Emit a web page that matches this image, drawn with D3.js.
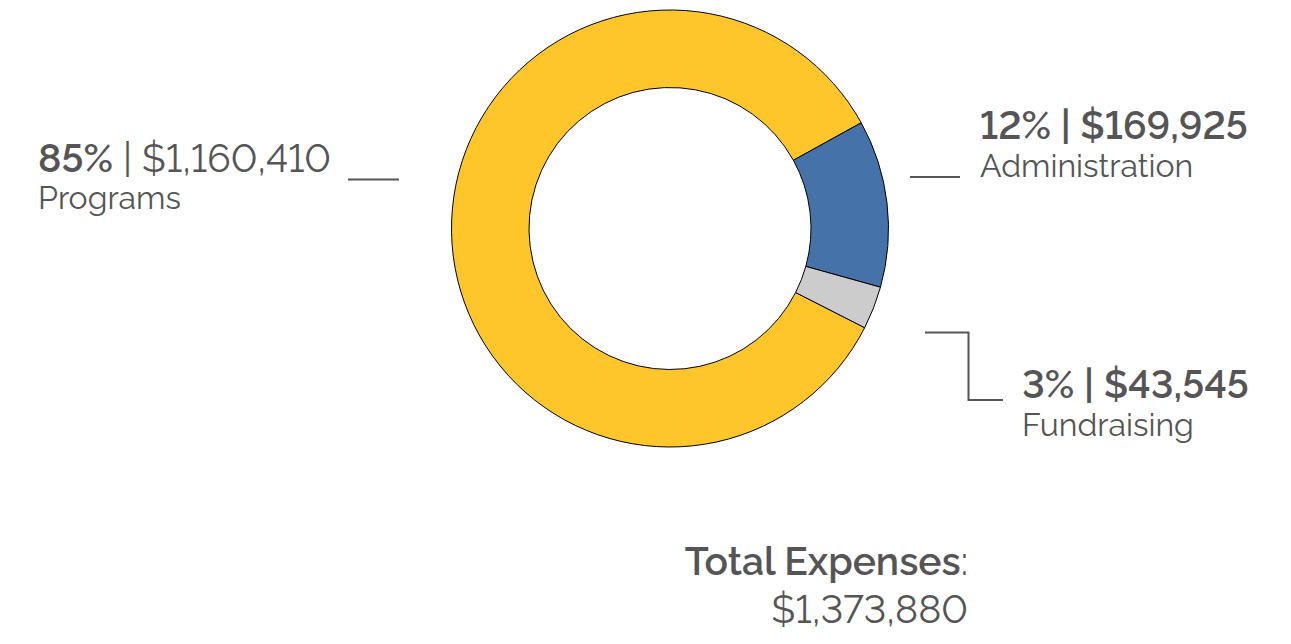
<!DOCTYPE html>
<html>
<head>
    <title>Total Expenses</title>
    <script src="https://d3js.org/d3.v7.min.js"></script>
    <style>
        body {
            margin: 0;
            background: #fff;
        }

        svg text {
            font-family: "Raleway", "Lato", "Open Sans", sans-serif;
            font-variant-numeric: lining-nums;
            font-feature-settings: "lnum" 1;
            fill: #555;
        }

        .slice {
            stroke: #000;
            stroke-width: 1;
        }

        .leader {
            fill: none;
            stroke: #555;
            stroke-width: 2;
        }

        .bold {
            font-weight: 600;
        }

        .light {
            font-weight: 400;
        }
    </style>
</head>
<body>
    <div id="chart"></div>

    <script>
        // Expense data
        const categories = ["Programs", "Administration", "Fundraising"];
        const amounts = [1160410, 169925, 43545];
        const percentLabels = ["85%", "12%", "3%"];
        const colors = ["#fec62a", "#4672aa", "#cccccc"];
        const totalTitle = "Total Expenses";

        const width = 1291;
        const height = 644;

        const svg = d3.select("#chart")
            .append("svg")
            .attr("width", width)
            .attr("height", height);

        const cx = 670, cy = 228.5;
        const outerR = 218.5, innerR = 141;

        // rotate so Administration starts just past 2 o'clock
        const start = -243 * Math.PI / 180;

        const pie = d3.pie()
            .sort(null)
            .value(d => d)
            .startAngle(start)
            .endAngle(start + 2 * Math.PI);

        const arc = d3.arc()
            .innerRadius(innerR)
            .outerRadius(outerR);

        const color = d3.scaleOrdinal()
            .domain(categories)
            .range(colors);

        const g = svg.append("g")
            .attr("transform", `translate(${cx},${cy})`);

        g.selectAll(".slice")
            .data(pie(amounts))
            .enter()
            .append("path")
            .attr("class", "slice")
            .attr("fill", (d, i) => color(categories[i]))
            .attr("d", arc);

        const money = d3.format("$,");

        // Programs label (left)
        const progText = svg.append("text")
            .attr("x", 38)
            .attr("y", 172)
            .style("font-size", "39px");
        progText.append("tspan").attr("class", "bold").text(percentLabels[0]);
        progText.append("tspan").attr("class", "light").text(" | " + money(amounts[0]));

        svg.append("text")
            .attr("class", "light")
            .attr("x", 38)
            .attr("y", 209)
            .style("font-size", "32px")
            .text(categories[0]);

        svg.append("path")
            .attr("class", "leader")
            .attr("d", "M348,179.5H399");

        // Administration label (right)
        svg.append("text")
            .attr("class", "bold")
            .attr("x", 980)
            .attr("y", 139)
            .style("font-size", "39px")
            .text(percentLabels[1] + " | " + money(amounts[1]));

        svg.append("text")
            .attr("class", "light")
            .attr("x", 980)
            .attr("y", 177)
            .style("font-size", "32px")
            .text(categories[1]);

        svg.append("path")
            .attr("class", "leader")
            .attr("d", "M910,177H960");

        // Fundraising label (lower right)
        svg.append("text")
            .attr("class", "bold")
            .attr("x", 1022)
            .attr("y", 398)
            .style("font-size", "39px")
            .text(percentLabels[2] + " | " + money(amounts[2]));

        svg.append("text")
            .attr("class", "light")
            .attr("x", 1022)
            .attr("y", 436)
            .style("font-size", "32px")
            .text(categories[2]);

        svg.append("path")
            .attr("class", "leader")
            .attr("d", "M925,332.5H968.5V400H1003");

        // Total
        const totalText = svg.append("text")
            .attr("x", 968)
            .attr("y", 575)
            .attr("text-anchor", "end")
            .style("font-size", "39px");
        totalText.append("tspan").attr("class", "bold").text(totalTitle);
        totalText.append("tspan").attr("class", "light").text(":");

        svg.append("text")
            .attr("class", "light")
            .attr("x", 968)
            .attr("y", 623)
            .attr("text-anchor", "end")
            .style("font-size", "39px")
            .text(money(d3.sum(amounts)));
    </script>
</body>
</html>
